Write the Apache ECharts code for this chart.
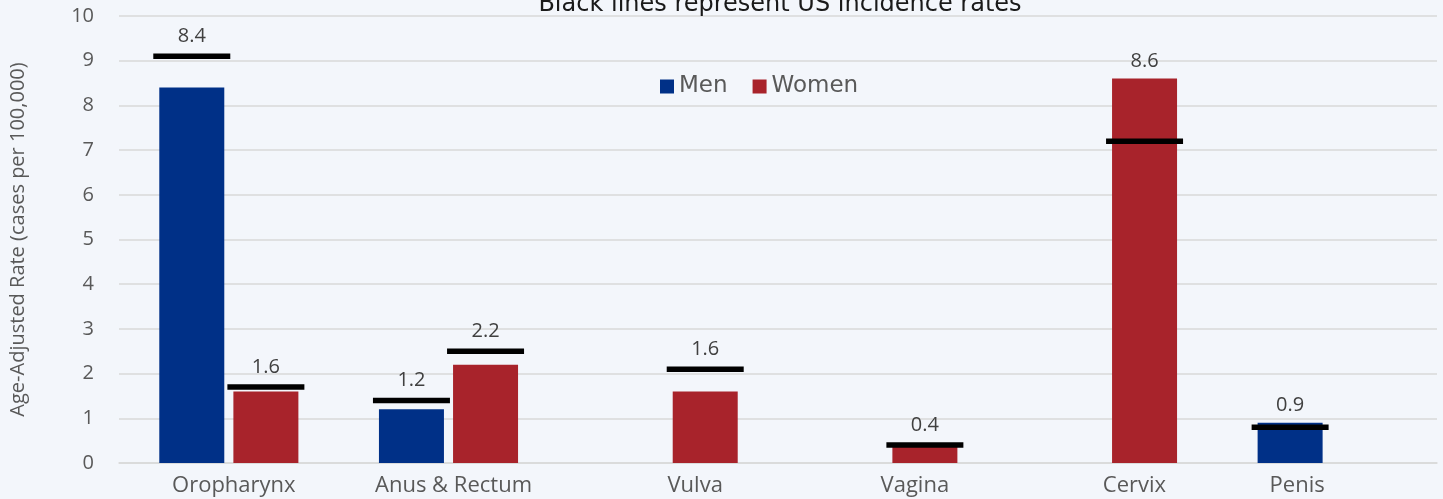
<!DOCTYPE html>
<html>
<head>
<meta charset="utf-8">
<script src="https://cdn.jsdelivr.net/npm/echarts@6/dist/echarts.min.js"></script>
<style>
html,body{margin:0;padding:0;background:#F3F6FB;}
#chart{width:1443px;height:499px;}
</style>
</head>
<body>
<div id="chart"></div>
<script>
const titleText = 'Black lines represent US incidence rates';
const yAxisName = 'Age-Adjusted Rate (cases per 100,000)';
const categories = ['Oropharynx', 'Anus & Rectum', 'Vulva', 'Vagina', 'Cervix', 'Penis'];
const seriesNames = ['Men', 'Women'];
const menRates = [8.4, 1.2, null, null, null, 0.9];
const womenRates = [1.6, 2.2, 1.6, 0.4, 8.6, null];
const menUSRates = [9.1, 1.4, null, null, null, 0.8];
const womenUSRates = [1.7, 2.5, 2.1, 0.4, 7.2, null];
const yMin = 0, yMax = 10, yInterval = 1;

const BAR_W = 65;
const BAR_GAP = 0.14;
const BAR_OFFSET = (BAR_W + BAR_W * BAR_GAP) / 2;
const LINE_W = 77, LINE_H = 5.5;

// US-rate markers, built from the arrays
const usData = [];
categories.forEach((c, i) => {
  if (menRates[i] != null) usData.push([i, 0, menUSRates[i], menRates[i]]);
  if (womenRates[i] != null) usData.push([i, 1, womenUSRates[i], womenRates[i]]);
});

// category label shift toward the visible bar(s)
function labelFor(i, name) {
  const hasM = menRates[i] != null, hasW = womenRates[i] != null;
  if (hasM && hasW) return '{c|' + name + '}';
  if (hasW) return '{r|' + name + '}';
  return '{l|' + name + '}';
}

const chart = echarts.init(document.getElementById('chart'));
chart.setOption({
  backgroundColor: '#F3F6FB',
  animation: false,
  title: {
    text: titleText,
    left: 775,
    textAlign: 'center',
    top: -12,
    textStyle: { fontFamily: 'DejaVu Sans', fontSize: 24, fontWeight: 'normal', color: '#1a1a1a' }
  },
  legend: {
    data: seriesNames,
    left: 655,
    top: 70,
    icon: 'rect',
    itemWidth: 14,
    itemHeight: 14,
    itemGap: 25,
    itemStyle: { borderWidth: 0 },
    textStyle: { fontFamily: 'DejaVu Sans', fontSize: 23, color: '#595959' }
  },
  grid: { left: 117, right: 6, top: 16, bottom: 36, containLabel: false },
  xAxis: {
    type: 'category',
    data: categories,
    axisLine: { lineStyle: { color: '#D9D9D9', width: 1.5 } },
    axisTick: { show: false },
    axisLabel: {
      margin: 12,
      interval: 0,
      formatter: (v, i) => labelFor(i, v),
      rich: {
        c: { fontFamily: 'Open Sans', fontSize: 22, color: '#595959', padding: [0, 0, 0, 10] },
        r: { fontFamily: 'Open Sans', fontSize: 22, color: '#595959', padding: [0, 0, 0, 54] },
        l: { fontFamily: 'Open Sans', fontSize: 22, color: '#595959', padding: [0, 60, 0, 0] }
      }
    }
  },
  yAxis: {
    type: 'value',
    min: yMin,
    max: yMax,
    interval: yInterval,
    name: yAxisName,
    nameLocation: 'middle',
    nameGap: 91,
    nameTextStyle: { fontFamily: 'Open Sans', fontSize: 20, color: '#595959' },
    axisLine: { show: false },
    axisTick: { show: false },
    axisLabel: { margin: 25, fontFamily: 'Open Sans', fontSize: 20, color: '#595959' },
    splitLine: { lineStyle: { color: '#D9D9D9', width: 1.5 } }
  },
  series: [
    {
      name: 'Men', type: 'bar', data: menRates,
      barWidth: BAR_W, barGap: (BAR_GAP * 100) + '%',
      itemStyle: { color: '#003087' }
    },
    {
      name: 'Women', type: 'bar', data: womenRates,
      barWidth: BAR_W, barGap: (BAR_GAP * 100) + '%',
      itemStyle: { color: '#A8232B' }
    },
    {
      name: 'US', type: 'custom', data: usData,
      encode: { x: 0, y: 2 },
      z: 10,
      clip: false,
      renderItem: function (params, api) {
        const ci = api.value(0), s = api.value(1), us = api.value(2), v = api.value(3);
        const p = api.coord([ci, us]);
        const pv = api.coord([ci, v]);
        const x = p[0] + (s === 0 ? -BAR_OFFSET : BAR_OFFSET);
        const top = Math.min(p[1] - LINE_H / 2, pv[1]);
        return {
          type: 'group',
          children: [
            { type: 'rect', shape: { x: x - LINE_W / 2, y: p[1] - LINE_H / 2, width: LINE_W, height: LINE_H }, style: { fill: '#000' } },
            { type: 'text', x: x, y: top - 17, style: { text: v.toFixed(1), align: 'center', verticalAlign: 'middle', fill: '#404040', font: '20px "Open Sans"' } }
          ]
        };
      }
    }
  ]
});
</script>
</body>
</html>
